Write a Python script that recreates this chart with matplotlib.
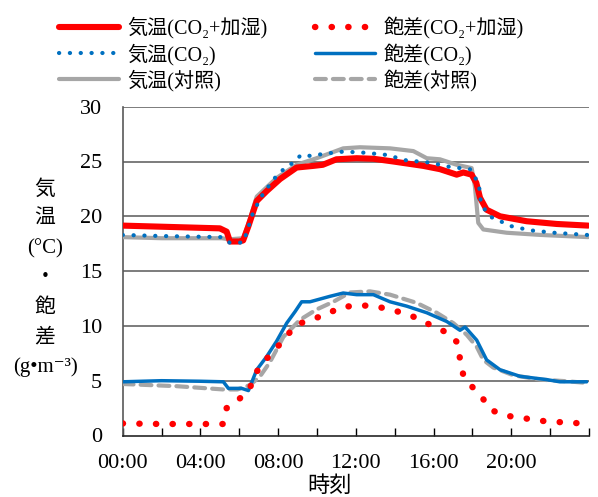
import numpy as np
import matplotlib
matplotlib.use("Agg")
import matplotlib.pyplot as plt

plt.rcParams['font.family'] = ['Liberation Serif', 'Noto Sans CJK JP', 'DejaVu Serif']

# --- data (hours, value) ---
# air temperature (℃)
t_temp_co2_hum = [0, 1, 2, 3, 4, 5.0, 5.35, 5.52, 6.0, 6.2, 6.47, 6.9, 7.41, 8.1, 8.95, 9.81, 10.3,
                  11.0, 12.04, 12.9, 13.93, 15.47, 16.33, 17.19, 17.53, 17.96, 18.2, 18.39, 18.73,
                  19.42, 20.79, 22.34, 23.96]
temp_co2_hum = [19.15, 19.1, 19.05, 19.0, 18.95, 18.9, 18.6, 17.7, 17.7, 17.8, 19.1, 21.4, 22.3, 23.4,
                24.45, 24.6, 24.7, 25.2, 25.3, 25.25, 25.0, 24.6, 24.3, 23.8, 24.0, 23.8, 23.05, 21.7,
                20.6, 20.0, 19.55, 19.3, 19.15]

t_temp_co2 = [0, 2, 5.1, 5.5, 6.2, 6.38, 6.72, 7.24, 7.92, 8.35, 8.78, 9.18, 9.73, 10.32, 11.35, 11.96,
              12.47, 13.59, 14.6, 15.8, 16.85, 17.87, 18.2, 18.35, 18.42, 18.6, 19.0, 19.5, 20.0, 20.5,
              21.1, 22.2, 23.9]
temp_co2 = [18.3, 18.2, 18.1, 17.6, 17.6, 18.5, 20.4, 22.1, 23.7, 24.4, 24.9, 25.6, 25.5, 25.7, 25.9,
            25.85, 25.8, 25.6, 25.1, 24.9, 24.5, 24.3, 23.35, 22.6, 21.5, 20.7, 19.9, 19.5, 19.1, 18.9,
            18.7, 18.5, 18.3]

t_temp_ctrl = [0, 2, 5.1, 5.5, 6.2, 6.5, 6.9, 7.92, 8.95, 9.98, 11.35, 12.21, 13.76, 14.96, 15.65,
               16.33, 17.19, 17.96, 18.13, 18.3, 18.56, 19.76, 21.5, 23.96]
temp_ctrl = [18.1, 18.0, 18.0, 17.9, 18.0, 19.5, 21.8, 23.5, 24.7, 25.3, 26.2, 26.3, 26.2, 25.95, 25.3,
             25.2, 24.7, 24.4, 22.7, 19.4, 18.8, 18.5, 18.3, 18.1]

# saturation deficit (g m-3)
t_vpd_co2_hum = [0, 2, 4, 5.15, 5.35, 5.92, 6.52, 6.81, 7.27, 7.84, 8.39, 8.95, 9.69, 10.46, 11.18,
                 12.01, 12.81, 13.64, 14.39, 15.18, 15.92, 16.68, 17.22, 17.36, 17.53, 18.01, 18.48,
                 18.99, 19.76, 20.59, 21.43, 22.25, 23.07, 23.88]
vpd_co2_hum = [1.1, 1.05, 1.05, 1.05, 2.5, 3.2, 4.2, 5.6, 6.75, 7.8, 9.0, 10.1, 10.6, 11.0, 11.7, 11.85,
               11.85, 11.55, 11.2, 10.7, 10.0, 9.4, 8.5, 7.0, 5.5, 4.4, 3.5, 2.3, 1.8, 1.6, 1.35, 1.25,
               1.15, 1.1]

t_vpd_co2 = [0, 2, 4, 5.18, 5.44, 6.12, 6.47, 6.9, 7.41, 7.92, 8.44, 8.87, 9.21, 9.64, 10.67, 11.35,
             12.04, 12.9, 13.76, 14.62, 15.65, 16.68, 17.36, 17.62, 18.22, 18.73, 19.42, 20.45, 21.82,
             22.5, 23.88]
vpd_co2 = [4.9, 5.0, 4.95, 4.9, 4.3, 4.3, 4.1, 6.0, 7.2, 8.6, 10.25, 11.3, 12.2, 12.2, 12.7, 13.0,
           12.85, 12.85, 12.2, 11.8, 11.2, 10.4, 9.6, 9.9, 8.7, 6.9, 6.0, 5.4, 5.1, 4.9, 4.9]

t_vpd_ctrl = [0, 2.78, 5.18, 5.9, 6.55, 7.07, 7.58, 8.27, 9.12, 9.98, 10.84, 11.7, 12.73, 13.76, 15.13,
              16.16, 17.02, 17.7, 18.22, 18.56, 19.07, 20.1, 21.5, 22.85, 23.88]
vpd_ctrl = [4.7, 4.5, 4.2, 4.2, 4.6, 5.4, 6.7, 9.0, 10.55, 11.5, 12.2, 13.05, 13.15, 12.85, 12.1, 11.2,
            10.25, 9.2, 8.1, 6.9, 6.2, 5.5, 5.1, 4.95, 4.8]

hour_ticks = [0, 4, 8, 12, 16, 20]
hour_labels = ['00:00', '04:00', '08:00', '12:00', '16:00', '20:00']
y_ticks = [0, 5, 10, 15, 20, 25, 30]

legend_labels = ['気温(CO₂+加湿)', '気温(CO₂)', '気温(対照)',
                 '飽差(CO₂+加湿)', '飽差(CO₂)', '飽差(対照)']
ylabel_lines = ['気', '温', '(°C)', '・', '飽', '差', '(g•m⁻³)']

RED = '#FF0000'
BLUE = '#0070C0'
GRAY = '#A6A6A6'

W, H = 598, 497
fig = plt.figure(figsize=(W / 100, H / 100), dpi=100)
ax = fig.add_axes([122.7 / W, 1 - 435.5 / H, (589 - 122.7) / W, (435.5 - 106.7) / H])

dot = (0, (0.05, 2.55))
h_tc, = ax.plot(t_temp_ctrl, temp_ctrl, color=GRAY, lw=3.0, solid_capstyle='round', zorder=3)
h_th, = ax.plot(t_temp_co2_hum, temp_co2_hum, color=RED, lw=4.4, solid_capstyle='round', zorder=4)
h_tc2, = ax.plot(t_temp_co2, temp_co2, color=BLUE, lw=3.0, ls=dot, dash_capstyle='round', zorder=5)

h_vc, = ax.plot(t_vpd_ctrl, vpd_ctrl, color=GRAY, lw=3.0, ls=(0, (2.6, 1.7)),
                dash_capstyle='round', zorder=3)
h_vc2, = ax.plot(t_vpd_co2, vpd_co2, color=BLUE, lw=2.5, solid_capstyle='round', zorder=4)
h_vh, = ax.plot(t_vpd_co2_hum, vpd_co2_hum, color=RED, lw=4.6, ls=dot, dash_capstyle='round', zorder=5)

ax.set_xlim(0, 24)
ax.set_ylim(0, 30)
ax.set_xticks(hour_ticks)
ax.set_xticklabels(hour_labels)
ax.set_xticks(np.arange(0, 25, 2), minor=True)
ax.set_yticks(y_ticks)
ax.tick_params(axis='x', which='both', direction='in', length=6, width=1.0, color='black',
               pad=13, labelsize=16)
ax.tick_params(axis='y', length=0, pad=15, labelsize=16)
for y in y_ticks[1:]:
    ax.axhline(y, color='#595959', lw=1.1, zorder=1)
for s in ['top', 'right']:
    ax.spines[s].set_visible(False)
ax.spines['left'].set_color('#595959')
ax.spines['left'].set_linewidth(1.2)
ax.spines['bottom'].set_color('#262626')
ax.spines['bottom'].set_linewidth(1.2)

# stacked y label
for i, txt in enumerate(ylabel_lines):
    fig.text(45 / W, 1 - (190 + i * 29.5) / H, txt, ha='center', va='center', fontsize=15)

fig.text(330 / W, 1 - 487 / H, '時刻', ha='center', va='center', fontsize=16)

fig.legend([h_th, h_tc2, h_tc, h_vh, h_vc2, h_vc], legend_labels, ncol=2,
           loc='upper left', bbox_to_anchor=(59 / W, 1 - 17 / H), frameon=False,
           fontsize=14.5, handlelength=3.0, handletextpad=0.4, labelspacing=0.22,
           columnspacing=2.35, borderpad=0, borderaxespad=0)

fig.savefig('out.png', dpi=100)
